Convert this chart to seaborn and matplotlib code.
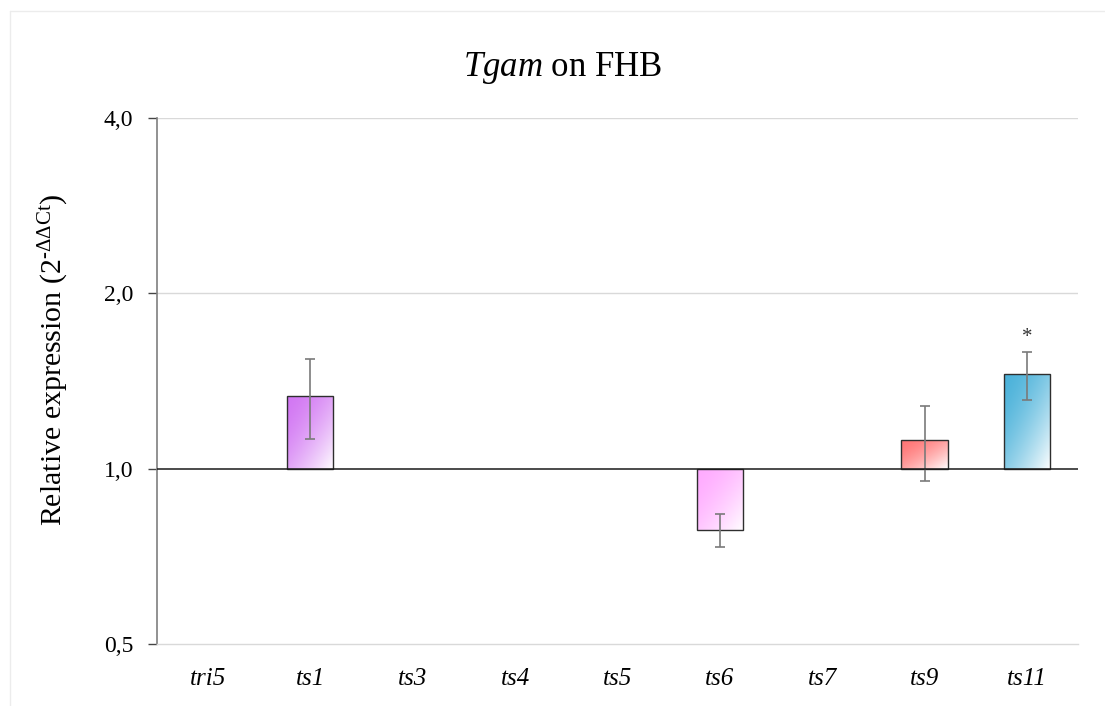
import numpy as np
import pandas as pd
import matplotlib
matplotlib.use("Agg")
import matplotlib.pyplot as plt
from matplotlib.colors import to_rgb
from matplotlib.lines import Line2D
import seaborn as sns

# Relative expression (2^-ddCt) per gene; 1.0 = no change
genes = ["tri5", "ts1", "ts3", "ts4", "ts5", "ts6", "ts7", "ts9", "ts11"]
expression = [1.0, 1.334, 1.0, 1.0, 1.0, 0.786, 1.0, 1.121, 1.455]
err_upper = [np.nan, 1.544, np.nan, np.nan, np.nan, 0.837, np.nan, 1.283, 1.587]
err_lower = [np.nan, 1.126, np.nan, np.nan, np.nan, 0.735, np.nan, 0.954, 1.313]
significant = [False, False, False, False, False, False, False, False, True]
bar_colors = ["#9e9e9e", "#d277f3", "#9e9e9e", "#9e9e9e", "#9e9e9e",
              "#ffabff", "#9e9e9e", "#ff7575", "#4bb2da"]
ytick_values = [0.5, 1.0, 2.0, 4.0]
ytick_labels = ["0,5", "1,0", "2,0", "4,0"]

sns.set_theme(style="white")
plt.rcParams["font.family"] = ["Liberation Serif", "DejaVu Serif"]
plt.rcParams["text.color"] = "black"
plt.rcParams["axes.labelcolor"] = "black"
plt.rcParams["xtick.color"] = "black"
plt.rcParams["ytick.color"] = "black"
plt.rcParams["mathtext.fontset"] = "custom"
plt.rcParams["mathtext.rm"] = "Liberation Serif"
plt.rcParams["mathtext.it"] = "Liberation Serif:italic"

df = pd.DataFrame({"gene": genes, "log2": np.log2(expression)})

fig = plt.figure(figsize=(11.05, 7.06), dpi=100)
ax = fig.add_axes([0.142, 0.0878, 0.8336, 0.7451])

sns.barplot(data=df, x="gene", y="log2", hue="gene", palette=bar_colors,
            width=0.45, errorbar=None, legend=False, ax=ax,
            edgecolor="#2e2e2e", linewidth=1.0, zorder=3)

# Diagonal gradient fill (colour at top-left, fading to white at bottom-right)
n = 200
u = np.linspace(0, 1, n)
uu, vv = np.meshgrid(u, u)
t = ((uu + vv) / 2.0) ** 1.6
for patch, col in zip(ax.patches, bar_colors):
    h = patch.get_height()
    if abs(h) < 1e-9:
        patch.set_visible(False)
        continue
    x0 = patch.get_x()
    w = patch.get_width()
    y0, y1 = sorted([patch.get_y(), patch.get_y() + h])
    base = np.array(to_rgb(col))
    img = base[None, None, :] * (1 - t[..., None]) + t[..., None]
    im = ax.imshow(img, extent=(x0, x0 + w, y0, y1), origin="upper",
                   aspect="auto", zorder=2, interpolation="bilinear")
    im.set_clip_path(patch)
    patch.set_facecolor("none")

# Error bars in log2 space
xs = np.arange(len(genes))
mid = np.log2(expression)
up = np.log2(np.array(err_upper)) - mid
lo = mid - np.log2(np.array(err_lower))
mask = ~np.isnan(up)
ax.errorbar(xs[mask], mid[mask], yerr=[lo[mask], up[mask]], fmt="none",
            ecolor="#7a7a7a", elinewidth=1.2, capsize=3.5, capthick=1.2, zorder=4)

for x, m, u_, sig in zip(xs, mid, up, significant):
    if sig:
        ax.text(x, m + u_ + 0.025, "*", ha="center", va="bottom",
                fontsize=15, color="#333333", zorder=5)

# Axes styling
ax.set_xlim(-0.5, len(genes) - 0.5)
ax.set_ylim(-1, 2)
ax.set_yticks(np.log2(ytick_values))
ax.set_yticklabels(ytick_labels, fontsize=17)
for yv in [1, 2]:
    ax.axhline(yv, color="#d9d9d9", lw=1.0, zorder=1)
ax.axhline(0, color="#1a1a1a", lw=1.1, zorder=5)
for side in ["top", "right"]:
    ax.spines[side].set_visible(False)
ax.spines["bottom"].set_color("#d9d9d9")
ax.spines["bottom"].set_linewidth(1.0)
ax.spines["left"].set_color("#7f7f7f")
ax.spines["left"].set_linewidth(1.2)
ax.tick_params(axis="y", direction="out", length=6.5, width=1.0,
               color="#444444", left=True, pad=10.5)
ax.tick_params(axis="x", length=0, pad=17)
ax.set_xticks(xs)
ax.set_xticklabels(genes, fontsize=18, style="italic")
ax.set_xlabel("")
ax.set_ylabel("Relative expression (2$^{\\mathregular{\u2010ΔΔCt}}$)",
              fontsize=21.5)
ax.yaxis.set_label_coords(-0.093, 0.54)

fig.text(563 / 1105, 1 - 76 / 706, r"$\mathit{Tgam}$ on FHB",
         ha="center", va="baseline", fontsize=25)

# Light outer frame
fig.add_artist(Line2D([9.5 / 1105, 9.5 / 1105], [0, 1 - 11 / 706],
                      transform=fig.transFigure, color="#ececec", lw=1.0))
fig.add_artist(Line2D([9.5 / 1105, 1], [1 - 11 / 706, 1 - 11 / 706],
                      transform=fig.transFigure, color="#ececec", lw=1.0))

fig.savefig("out.png", dpi=100)
